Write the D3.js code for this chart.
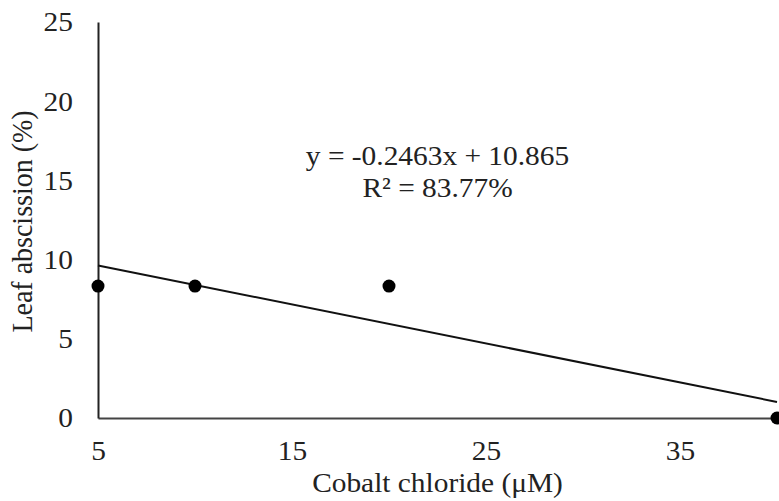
<!DOCTYPE html>
<html>
<head>
<meta charset="utf-8">
<script src="https://cdn.jsdelivr.net/npm/d3@7"></script>
<style>
  body { margin: 0; background: #fff; }
  svg text, svg tspan { font-family: "Liberation Serif", "Times New Roman", serif !important; fill: #222; }
</style>
</head>
<body>
<svg width="779" height="501"></svg>
<script>
// data
var concentrations = [5, 10, 20, 40];
var abscission = [8.33, 8.33, 8.33, 0];
var xTicks = [5, 15, 25, 35];
var yTicks = [0, 5, 10, 15, 20, 25];
var slope = -0.2463, intercept = 10.865;
var equationLines = ["y = -0.2463x + 10.865", "R\u00b2 = 83.77%"];

var serif = "'Liberation Serif', 'Times New Roman', serif";
var fontSize = "28px";
var stretch = "scale(1.05,1)";   // the original picture is a little wider than tall

var svg = d3.select("svg"),
    margin = {top: 22, right: 2, bottom: 83, left: 98},
    width = +svg.attr("width") - margin.left - margin.right,
    height = +svg.attr("height") - margin.top - margin.bottom,
    g = svg.append("g").attr("transform", "translate(" + margin.left + "," + margin.top + ")");

var x = d3.scaleLinear().domain([5, 40]).range([0, width]);
var y = d3.scaleLinear().domain([0, 25]).range([height, 0]);

var points = concentrations.map(function(c, i) { return {x: c, y: abscission[i]}; });

g.append("g")
    .attr("class", "axis axis--x")
    .attr("transform", "translate(0," + height + ")")
    .call(d3.axisBottom(x).tickValues(xTicks).tickSize(0).tickPadding(22))
    .attr("font-family", serif)
    .call(function(a) {
      a.select(".domain").attr("stroke", "#444").attr("stroke-width", 2);
      a.selectAll("text").style("font-size", fontSize).style("font-family", serif)
        .attr("fill", "#222").attr("transform", stretch);
    });

g.append("g")
    .attr("class", "axis axis--y")
    .call(d3.axisLeft(y).tickValues(yTicks).tickSize(0))
    .attr("font-family", serif)
    .call(function(a) {
      a.select(".domain").attr("stroke", "#222").attr("stroke-width", 2);
      a.selectAll("text").style("font-size", fontSize).style("font-family", serif)
        .attr("fill", "#222").attr("x", 0)
        .attr("transform", "translate(-25,0) " + stretch);
    });

// trend line
var lineFunction = d3.line()
    .x(function(d) { return x(d); })
    .y(function(d) { return y(slope * d + intercept); });

g.append("path")
    .datum([5, 40])
    .attr("d", lineFunction)
    .attr("fill", "none")
    .attr("stroke", "#111")
    .attr("stroke-width", 2);

g.selectAll(".dot")
    .data(points)
  .enter().append("circle")
    .attr("class", "dot")
    .attr("cx", function(d) { return x(d.x); })
    .attr("cy", function(d) { return y(d.y); })
    .attr("r", 6.5)
    .style("fill", "#000");

// equation label
g.append("g")
    .attr("transform", "translate(" + x(22.5) + "," + y(15.95) + ") " + stretch)
  .append("text")
    .attr("text-anchor", "middle")
    .style("font-size", fontSize)
    .style("font-family", serif)
    .selectAll("tspan")
    .data(equationLines)
  .enter().append("tspan")
    .attr("x", 0)
    .attr("dy", function(d, i) { return i ? "1.14em" : 0; })
    .text(function(d) { return d; });

svg.append("text")
    .attr("text-anchor", "middle")
    .attr("transform", "translate(" + (margin.left + width / 2) + ",492) " + stretch)
    .style("font-size", fontSize)
    .style("font-family", serif)
    .text("Cobalt chloride (\u03bcM)");

svg.append("text")
    .attr("text-anchor", "middle")
    .attr("transform", "translate(32,221.5) " + stretch + " rotate(-90)")
    .style("font-size", fontSize)
    .style("font-family", serif)
    .text("Leaf abscission (%)");
</script>
</body>
</html>
